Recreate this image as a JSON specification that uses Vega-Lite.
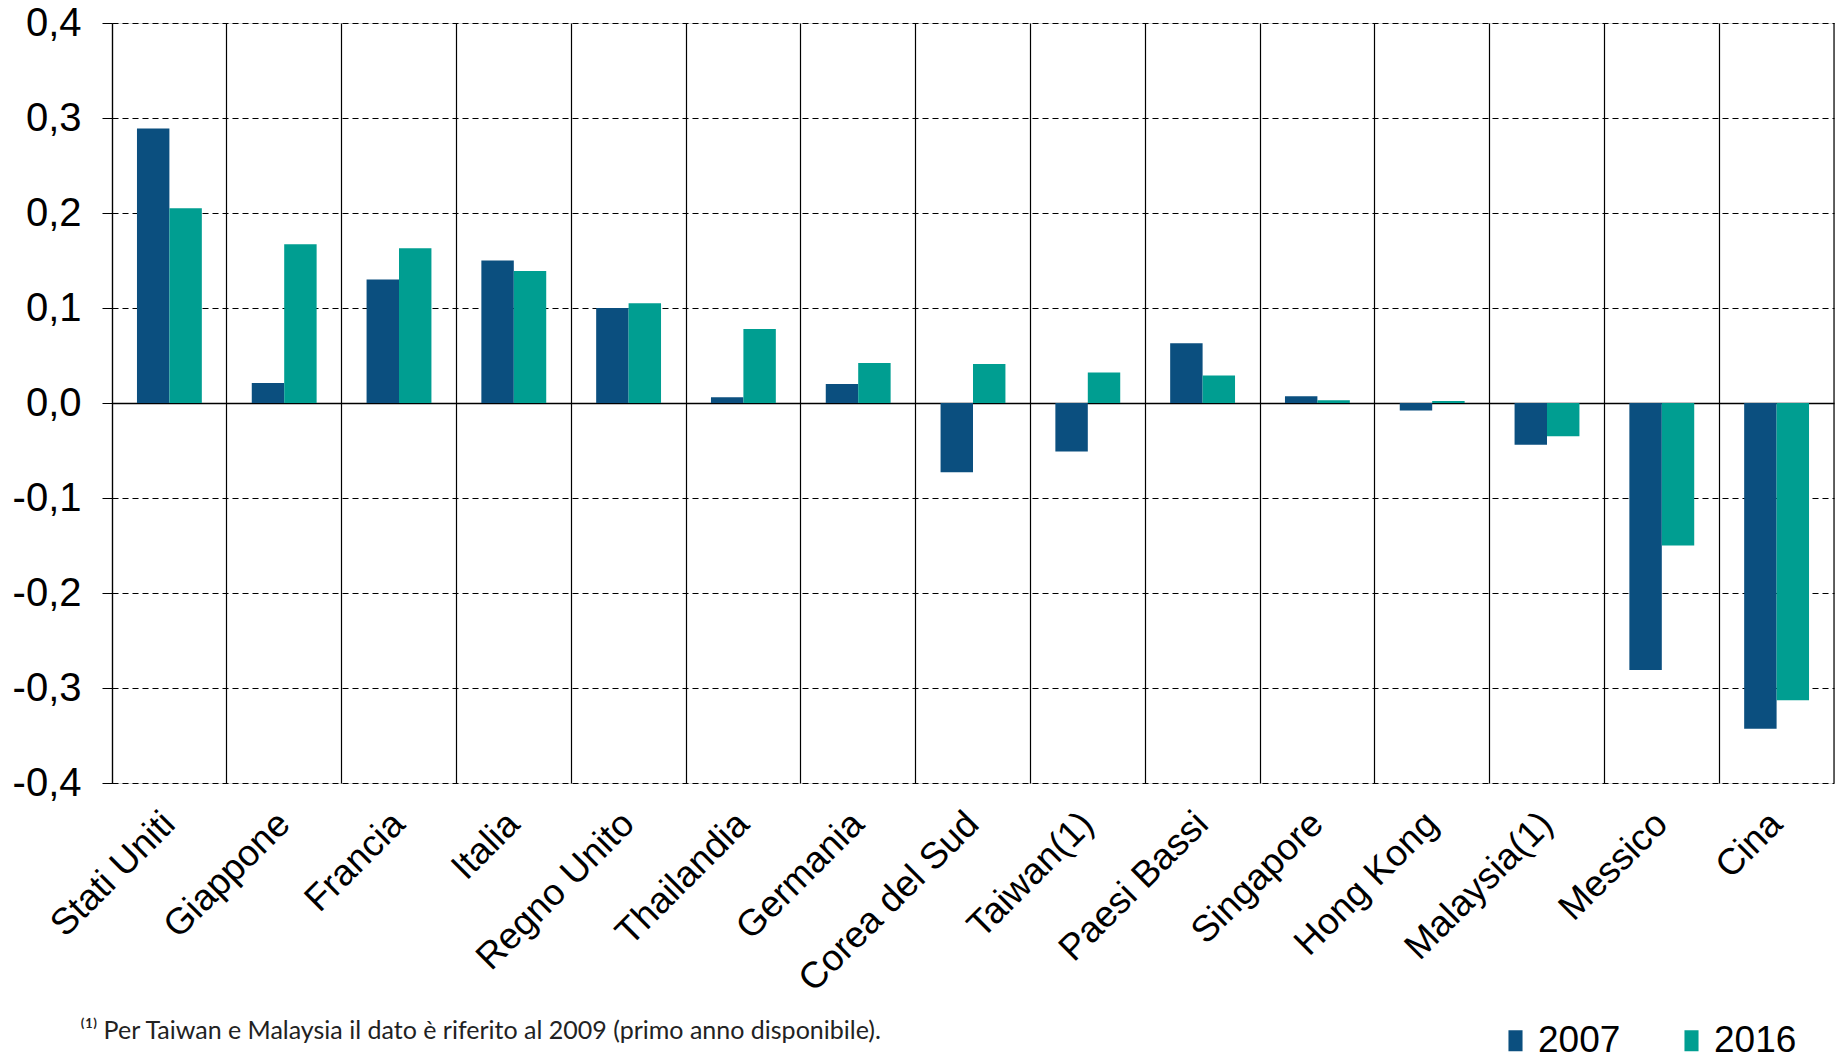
{
  "$schema": "https://vega.github.io/schema/vega-lite/v6.json",
  "description": "Bar chart 2007 vs 2016 by country",
  "width": 1722,
  "height": 760,
  "autosize": "none",
  "padding": {"left": 112, "top": 23, "right": 12, "bottom": 278},
  "background": "white",
  "data": {
    "values": [
      {"paese": "Stati Uniti", "anno": "2007", "valore": 0.289},
      {"paese": "Stati Uniti", "anno": "2016", "valore": 0.205},
      {"paese": "Giappone", "anno": "2007", "valore": 0.021},
      {"paese": "Giappone", "anno": "2016", "valore": 0.167},
      {"paese": "Francia", "anno": "2007", "valore": 0.130},
      {"paese": "Francia", "anno": "2016", "valore": 0.163},
      {"paese": "Italia", "anno": "2007", "valore": 0.150},
      {"paese": "Italia", "anno": "2016", "valore": 0.139},
      {"paese": "Regno Unito", "anno": "2007", "valore": 0.100},
      {"paese": "Regno Unito", "anno": "2016", "valore": 0.105},
      {"paese": "Thailandia", "anno": "2007", "valore": 0.006},
      {"paese": "Thailandia", "anno": "2016", "valore": 0.078},
      {"paese": "Germania", "anno": "2007", "valore": 0.020},
      {"paese": "Germania", "anno": "2016", "valore": 0.042},
      {"paese": "Corea del Sud", "anno": "2007", "valore": -0.073},
      {"paese": "Corea del Sud", "anno": "2016", "valore": 0.041},
      {"paese": "Taiwan(1)", "anno": "2007", "valore": -0.051},
      {"paese": "Taiwan(1)", "anno": "2016", "valore": 0.032},
      {"paese": "Paesi Bassi", "anno": "2007", "valore": 0.063},
      {"paese": "Paesi Bassi", "anno": "2016", "valore": 0.029},
      {"paese": "Singapore", "anno": "2007", "valore": 0.007},
      {"paese": "Singapore", "anno": "2016", "valore": 0.003},
      {"paese": "Hong Kong", "anno": "2007", "valore": -0.008},
      {"paese": "Hong Kong", "anno": "2016", "valore": 0.002},
      {"paese": "Malaysia(1)", "anno": "2007", "valore": -0.044},
      {"paese": "Malaysia(1)", "anno": "2016", "valore": -0.035},
      {"paese": "Messico", "anno": "2007", "valore": -0.281},
      {"paese": "Messico", "anno": "2016", "valore": -0.150},
      {"paese": "Cina", "anno": "2007", "valore": -0.343},
      {"paese": "Cina", "anno": "2016", "valore": -0.313}
    ]
  },
  "layer": [
    {
      "mark": {"type": "bar"},
      "encoding": {
        "x": {
          "field": "paese",
          "type": "nominal",
          "scale": {
            "domain": ["Stati Uniti", "Giappone", "Francia", "Italia", "Regno Unito", "Thailandia", "Germania", "Corea del Sud", "Taiwan(1)", "Paesi Bassi", "Singapore", "Hong Kong", "Malaysia(1)", "Messico", "Cina"],
            "paddingInner": 0,
            "paddingOuter": 0
          },
          "axis": {
            "title": "⁽¹⁾ Per Taiwan e Malaysia il dato è riferito al 2009 (primo anno disponibile).",
            "titleAnchor": "start",
            "titleAlign": "left",
            "titleBaseline": "alphabetic",
            "titleX": -32,
            "titleY": 255,
            "titleFont": "Lato",
            "titleFontSize": 25,
            "titleFontWeight": "normal",
            "titleColor": "#222222",
            "bandPosition": 0,
            "grid": true,
            "gridColor": "black",
            "gridDash": [],
            "gridWidth": 1.2,
            "ticks": false,
            "domain": false,
            "labelAngle": -45,
            "labelAlign": "right",
            "labelBaseline": "middle",
            "labelPadding": 35,
            "labelLimit": 0,
            "labelFont": "Liberation Sans",
            "labelFontSize": 37,
            "labelColor": "black"
          }
        },
        "xOffset": {
          "field": "anno",
          "type": "nominal",
          "scale": {"paddingInner": 0, "paddingOuter": 0.77}
        },
        "y": {
          "field": "valore",
          "type": "quantitative",
          "scale": {"domain": [-0.4, 0.4], "nice": false, "zero": false},
          "axis": {
            "title": null,
            "values": [-0.4, -0.3, -0.2, -0.1, 0, 0.1, 0.2, 0.3, 0.4],
            "labelExpr": "replace(replace(format(datum.value, '.1f'), '.', ','), '\u2212', '-')",
            "labelFont": "Liberation Sans",
            "labelFontSize": 40,
            "labelColor": "black",
            "labelPadding": 21,
            "tickSize": 10,
            "tickColor": "black",
            "domain": true,
            "domainColor": "black",
            "domainWidth": 1.2,
            "grid": true,
            "gridColor": "black",
            "gridWidth": {"condition": {"test": "datum.value === 0", "value": 1.6}, "value": 1.1},
            "gridDash": {"condition": {"test": "datum.value === 0", "value": []}, "value": [6, 4]}
          }
        },
        "color": {
          "field": "anno",
          "type": "nominal",
          "scale": {"domain": ["2007", "2016"], "range": ["#0B4F7F", "#009E91"]},
          "legend": {
            "title": null,
            "orient": "none",
            "legendX": 1385,
            "legendY": 999,
            "direction": "horizontal",
            "labelFont": "Liberation Sans",
            "labelFontSize": 37,
            "labelColor": "black",
            "labelOffset": 4,
            "columnPadding": 52,
            "symbolType": "M-0.67,-1H0.67V1H-0.67Z",
            "symbolSize": 441,
            "symbolStrokeWidth": 0
          }
        }
      }
    },
    {
      "data": {"values": [{"paese": "Cina"}]},
      "mark": {"type": "rule", "color": "black", "strokeWidth": 1.2},
      "encoding": {
        "x": {"field": "paese", "type": "nominal", "bandPosition": 1}
      }
    }
  ]
}
